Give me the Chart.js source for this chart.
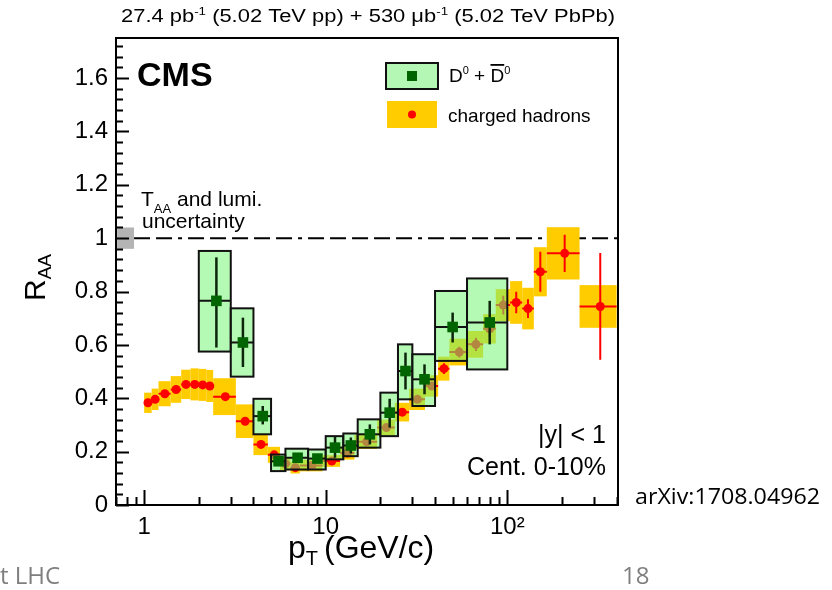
<!DOCTYPE html>
<html>
<head>
<meta charset="utf-8">
<script src="https://cdn.jsdelivr.net/npm/chart.js@4.4.1/dist/chart.umd.min.js"></script>
<style>
  html, body { margin: 0; background: #fff; }
</style>
</head>
<body>
<canvas id="raa" width="832" height="590"></canvas>
<script>
// charged hadrons: bin centre, bin edges, R_AA, stat. and syst. errors
const hPt   = [1.05, 1.15, 1.3, 1.5, 1.7, 1.9, 2.1, 2.3, 2.8, 3.6, 4.4, 5.2, 6.0, 6.8, 8.4, 10.8, 13.2, 16.8, 21.6, 26.4, 32, 38.4, 44.8, 54.4, 67.2, 80, 95, 112, 130, 152, 207, 325];
const hLo   = [1.0, 1.1, 1.2, 1.4, 1.6, 1.8, 2.0, 2.2, 2.4, 3.2, 4.0, 4.8, 5.6, 6.4, 7.2, 9.6, 12.0, 14.4, 19.2, 24.0, 28.8, 35.2, 41.6, 48.0, 60.8, 73.6, 86.4, 103.6, 120.8, 140, 165, 250];
const hHi   = [1.1, 1.2, 1.4, 1.6, 1.8, 2.0, 2.2, 2.4, 3.2, 4.0, 4.8, 5.6, 6.4, 7.2, 9.6, 12.0, 14.4, 19.2, 24.0, 28.8, 35.2, 41.6, 48.0, 60.8, 73.6, 86.4, 103.6, 120.8, 140, 165, 250, 400];
const hRaa  = [0.383, 0.396, 0.417, 0.433, 0.452, 0.452, 0.450, 0.446, 0.406, 0.314, 0.227, 0.188, 0.155, 0.140, 0.148, 0.165, 0.195, 0.237, 0.290, 0.348, 0.396, 0.446, 0.511, 0.573, 0.602, 0.660, 0.749, 0.759, 0.736, 0.874, 0.943, 0.744];
const hStat = [0.002, 0.002, 0.002, 0.002, 0.002, 0.002, 0.002, 0.002, 0.002, 0.002, 0.003, 0.003, 0.003, 0.003, 0.003, 0.004, 0.005, 0.006, 0.008, 0.010, 0.012, 0.015, 0.020, 0.020, 0.025, 0.030, 0.035, 0.040, 0.035, 0.075, 0.070, 0.200];
const hSys  = [0.038, 0.040, 0.047, 0.050, 0.055, 0.060, 0.060, 0.060, 0.069, 0.063, 0.040, 0.030, 0.025, 0.022, 0.022, 0.022, 0.025, 0.027, 0.030, 0.035, 0.040, 0.040, 0.045, 0.050, 0.050, 0.055, 0.060, 0.080, 0.078, 0.092, 0.098, 0.080];

// D0 + D0bar
const dPt     = [2.5, 3.5, 4.5, 5.5, 7, 9, 11.25, 13.75, 17.5, 22.5, 27.5, 35, 50, 80];
const dLo     = [2, 3, 4, 5, 6, 8, 10, 12.5, 15, 20, 25, 30, 40, 60];
const dHi     = [3, 4, 5, 6, 8, 10, 12.5, 15, 20, 25, 30, 40, 60, 100];
const dRaa    = [0.765, 0.609, 0.333, 0.164, 0.177, 0.174, 0.215, 0.223, 0.265, 0.346, 0.502, 0.471, 0.667, 0.684];
const dStatUp = [0.163, 0.093, 0.038, 0.010, 0.012, 0.012, 0.041, 0.030, 0.037, 0.052, 0.069, 0.056, 0.054, 0.081];
const dStatDn = [0.175, 0.092, 0.031, 0.010, 0.012, 0.012, 0.038, 0.030, 0.038, 0.056, 0.069, 0.056, 0.058, 0.082];
const dSysUp  = [0.187, 0.128, 0.065, 0.025, 0.034, 0.034, 0.043, 0.045, 0.056, 0.075, 0.100, 0.094, 0.135, 0.165];
const dSysDn  = [0.190, 0.128, 0.068, 0.037, 0.044, 0.041, 0.044, 0.040, 0.050, 0.088, 0.106, 0.100, 0.127, 0.176];

// TAA + lumi band at unity
const lumiX = [0.71, 0.88];
const lumiY = [0.96, 1.04];

// axis tick labels
const xTickValues = [1, 10, 100];
const xTickLabels = ["1", "10", "10\u00b2"];
const yTickValues = [0, 0.2, 0.4, 0.6, 0.8, 1, 1.2, 1.4, 1.6];
const yTickLabels = ["0", "0.2", "0.4", "0.6", "0.8", "1", "1.2", "1.4", "1.6"];

const FONT = '"Liberation Sans", Arial, sans-serif';
const SLIDE_FONT = '"Open Sans", "Noto Sans", sans-serif';
const YELLOW = "rgb(255,204,0)";
const GREEN_FILL = "rgba(118,246,118,0.55)";
const DARK_GREEN = "rgb(0,100,0)";

function richText(ctx, parts, x, y) {
  // parts: [text, size, dy]
  let cx = x;
  for (const [t, size, dy] of parts) {
    ctx.font = size + "px " + FONT;
    ctx.fillText(t, cx, y + dy);
    cx += ctx.measureText(t).width;
  }
  return cx - x;
}

function fitText(ctx, parts, x, y, width) {
  ctx.save();
  ctx.globalAlpha = 0;
  const w = richText(ctx, parts, 0, -1000);
  ctx.restore();
  ctx.save();
  ctx.translate(x, y);
  ctx.scale(width / w, 1);
  richText(ctx, parts, 0, 0);
  ctx.restore();
}

const cmsDecor = {
  id: "cmsDecor",
  beforeDatasetDraw(chart, args) {
    const { ctx, chartArea: a, scales: { x, y } } = chart;
    ctx.save();
    if (args.index === 1) {
      // unity line
      ctx.strokeStyle = "#000";
      ctx.lineWidth = 2;
      ctx.setLineDash([16, 6, 16, 6, 4, 6, 16, 6, 16, 6, 16, 6]);
      ctx.beginPath();
      ctx.moveTo(x.getPixelForValue(lumiX[1]), y.getPixelForValue(1));
      ctx.lineTo(a.right, y.getPixelForValue(1));
      ctx.stroke();
      ctx.setLineDash([]);
      // TAA and lumi band
      ctx.fillStyle = "#b4b4b4";
      ctx.fillRect(x.getPixelForValue(lumiX[0]), y.getPixelForValue(lumiY[1]),
        x.getPixelForValue(lumiX[1]) - x.getPixelForValue(lumiX[0]),
        y.getPixelForValue(lumiY[0]) - y.getPixelForValue(lumiY[1]));
      // hadron syst. boxes
      ctx.fillStyle = YELLOW;
      hPt.forEach((p, i) => {
        const x0 = x.getPixelForValue(hLo[i]), x1 = x.getPixelForValue(hHi[i]);
        const y0 = y.getPixelForValue(hRaa[i] + hSys[i]), y1 = y.getPixelForValue(hRaa[i] - hSys[i]);
        ctx.fillRect(x0, y0, x1 - x0, y1 - y0);
      });
      // hadron error bars
      ctx.strokeStyle = "rgb(255,0,0)";
      ctx.lineWidth = 2;
      hPt.forEach((p, i) => {
        const cx = x.getPixelForValue(p), cy = y.getPixelForValue(hRaa[i]);
        ctx.beginPath();
        ctx.moveTo(x.getPixelForValue(hLo[i]), cy);
        ctx.lineTo(x.getPixelForValue(hHi[i]), cy);
        ctx.moveTo(cx, y.getPixelForValue(hRaa[i] + hStat[i]));
        ctx.lineTo(cx, y.getPixelForValue(hRaa[i] - hStat[i]));
        ctx.stroke();
      });
    } else if (args.index === 0) {
      dPt.forEach((p, i) => {
        const x0 = x.getPixelForValue(dLo[i]), x1 = x.getPixelForValue(dHi[i]);
        const y0 = y.getPixelForValue(dRaa[i] + dSysUp[i]), y1 = y.getPixelForValue(dRaa[i] - dSysDn[i]);
        ctx.fillStyle = GREEN_FILL;
        ctx.fillRect(x0, y0, x1 - x0, y1 - y0);
        ctx.strokeStyle = "#111";
        ctx.lineWidth = 2;
        ctx.strokeRect(x0, y0, x1 - x0, y1 - y0);
        const cx = x.getPixelForValue(p), cy = y.getPixelForValue(dRaa[i]);
        ctx.beginPath();
        ctx.moveTo(x0, cy);
        ctx.lineTo(x1, cy);
        ctx.stroke();
        ctx.strokeStyle = "#0c260c";
        ctx.lineWidth = 2.5;
        ctx.beginPath();
        ctx.moveTo(cx, y.getPixelForValue(dRaa[i] + dStatUp[i]));
        ctx.lineTo(cx, y.getPixelForValue(dRaa[i] - dStatDn[i]));
        ctx.stroke();
      });
    }
    ctx.restore();
  },
  afterDatasetsDraw(chart) {
    const { ctx, chartArea: a, scales: { x, y } } = chart;
    ctx.save();
    ctx.strokeStyle = "#000";
    ctx.lineWidth = 2;
    ctx.strokeRect(a.left, a.top, a.right - a.left, a.bottom - a.top);
    // inner ticks, y
    ctx.beginPath();
    for (let k = 0; k * 0.04 <= y.max + 1e-9; k++) {
      const py = Math.round(y.getPixelForValue(k * 0.04)) + 0.5;
      const len = k % 5 === 0 ? 13 : 7;
      ctx.moveTo(a.left, py);
      ctx.lineTo(a.left + len, py);
    }
    // inner ticks, x (log)
    for (const dec of [0.1, 1, 10, 100]) {
      for (let k = 1; k <= 9; k++) {
        const v = k * dec;
        if (v < x.min || v > x.max) continue;
        const pxv = Math.round(x.getPixelForValue(v)) + 0.5;
        const len = k === 1 ? 15 : 8;
        ctx.moveTo(pxv, a.bottom);
        ctx.lineTo(pxv, a.bottom - len);
      }
    }
    ctx.stroke();
    ctx.restore();
  },
  afterDraw(chart) {
    const { ctx } = chart;
    ctx.save();
    ctx.fillStyle = "#000";
    ctx.textBaseline = "alphabetic";
    ctx.textAlign = "left";

    // header
    fitText(ctx, [["27.4 pb", 18, 0], ["-1", 11, -7], [" (5.02 TeV pp) + 530 \u03bcb", 18, 0], ["-1", 11, -7], [" (5.02 TeV PbPb)", 18, 0]], 121, 22, 494);

    // CMS
    ctx.font = "bold 34px " + FONT;
    ctx.fillText("CMS", 137, 86);

    // TAA and lumi. uncertainty
    richText(ctx, [["T", 21, 0], ["AA", 13, 7], [" and lumi.", 21, 0]], 141, 206);
    ctx.font = "21px " + FONT;
    ctx.fillText("uncertainty", 142, 228);

    // legend
    ctx.fillStyle = "#b4f7b4";
    ctx.fillRect(386, 63, 52, 26);
    ctx.strokeStyle = "#111";
    ctx.lineWidth = 2;
    ctx.strokeRect(386, 63, 52, 26);
    ctx.fillStyle = DARK_GREEN;
    ctx.fillRect(407, 71, 10, 10);
    ctx.fillStyle = YELLOW;
    ctx.fillRect(387, 101, 50, 27);
    ctx.fillStyle = "rgb(255,0,0)";
    ctx.beginPath();
    ctx.arc(412, 114.5, 4, 0, Math.PI * 2);
    ctx.fill();
    ctx.fillStyle = "#000";
    const w1 = richText(ctx, [["D", 19, 0], ["0", 11, -8], [" + ", 19, 0]], 449, 82);
    ctx.font = "19px " + FONT;
    const dw = ctx.measureText("D").width;
    richText(ctx, [["D", 19, 0], ["0", 11, -8]], 449 + w1, 82);
    ctx.fillRect(449 + w1, 64, dw, 1.8);
    ctx.font = "19px " + FONT;
    ctx.fillText("charged hadrons", 448, 122);

    // kinematic selection
    ctx.textAlign = "right";
    ctx.font = "25px " + FONT;
    ctx.fillText("|y| < 1", 606, 443);
    ctx.fillText("Cent. 0-10%", 606, 475);
    ctx.textAlign = "left";

    // axis titles
    richText(ctx, [["p", 32, 0], ["T", 20, 7]], 288, 558);
    ctx.font = "32px " + FONT;
    ctx.fillText("(GeV/c)", 324, 558);
    ctx.save();
    ctx.translate(45, 301);
    ctx.rotate(-Math.PI / 2);
    richText(ctx, [["R", 30, 0], ["AA", 19, 6]], 0, 0);
    ctx.restore();

    // slide annotations
    ctx.font = "22px " + SLIDE_FONT;
    ctx.save();
    ctx.translate(635, 504);
    ctx.scale(185 / ctx.measureText("arXiv:1708.04962").width, 1);
    ctx.fillText("arXiv:1708.04962", 0, 0);
    ctx.restore();
    ctx.fillStyle = "#7f7f7f";
    ctx.font = "24px " + SLIDE_FONT;
    ctx.fillText("t LHC", 0, 584);
    ctx.fillText("18", 622, 584);
    ctx.restore();
  }
};

const ctx = document.getElementById("raa").getContext("2d");
new Chart(ctx, {
  type: "scatter",
  data: {
    datasets: [
      {
        label: "D0 + D0bar",
        data: dPt.map((p, i) => ({ x: p, y: dRaa[i] })),
        pointStyle: "rect",
        pointRadius: 7.5,
        backgroundColor: DARK_GREEN,
        borderWidth: 0,
      },
      {
        label: "charged hadrons",
        data: hPt.map((p, i) => ({ x: p, y: hRaa[i] })),
        pointStyle: "circle",
        pointRadius: 4.5,
        backgroundColor: "rgb(255,0,0)",
        borderWidth: 0,
      },
    ],
  },
  options: {
    responsive: false,
    animation: false,
    events: [],
    layout: { padding: { left: 0, top: 38, right: 214, bottom: 0 } },
    plugins: { legend: { display: false }, tooltip: { enabled: false } },
    scales: {
      x: {
        type: "logarithmic",
        min: 0.71,
        max: 407,
        afterFit: (s) => { s.height = 85; },
        afterBuildTicks: (s) => { s.ticks = xTickValues.map((v) => ({ value: v })); },
        grid: { display: false, drawTicks: false },
        border: { display: false },
        ticks: {
          autoSkip: false,
          maxRotation: 0,
          padding: 8,
          color: "#000",
          font: { family: FONT, size: 24 },
          callback: (v) => xTickLabels[xTickValues.indexOf(v)],
        },
      },
      y: {
        min: 0,
        max: 1.75,
        afterFit: (s) => { s.width = 116; },
        afterBuildTicks: (s) => { s.ticks = yTickValues.map((v) => ({ value: v })); },
        grid: { display: false, drawTicks: false },
        border: { display: false },
        ticks: {
          padding: 8,
          color: "#000",
          font: { family: FONT, size: 24 },
          callback: (v) => yTickLabels[yTickValues.indexOf(v)],
        },
      },
    },
  },
  plugins: [cmsDecor],
});
</script>
</body>
</html>
